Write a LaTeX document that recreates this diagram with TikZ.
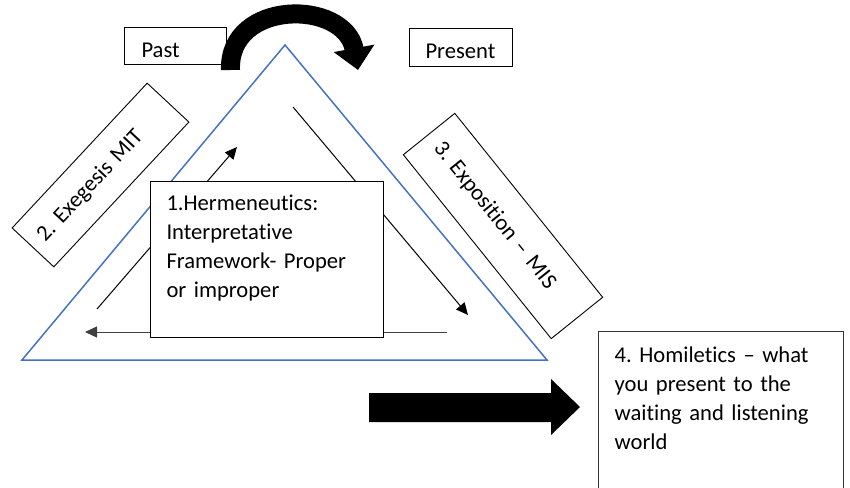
\documentclass[tikz,border=0pt]{standalone}
\usepackage{fontspec}
\setmainfont{Carlito}[Ligatures=NoCommon]
\usepackage{xcolor}
\usepackage{tikz}
\usetikzlibrary{positioning, shapes, arrows.meta, calc}
\definecolor{triblue}{HTML}{4472C4}
\frenchspacing

\begin{document}
\begin{tikzpicture}[
    x=1pt, y=-1pt,
    every node/.style={font=\fontsize{22.6pt}{29pt}\selectfont},
    box/.style={draw, fill=white, line width=1pt, align=left, inner ysep=0pt, anchor=north west},
    tilted/.style={draw, fill=white, line width=0.9pt, align=left, inner xsep=12pt},
    flow/.style={line width=1pt, -{Triangle[length=12pt,width=11pt]}},
    tri/.style={draw=triblue, line width=1.5pt, line join=miter}
]
\useasboundingbox (0,0) rectangle (850,487);

% 时间：过去 -> 现在
\node[box, text width=68pt, inner xsep=17pt, text height=30pt, text depth=7pt] (past) at (124,27) {Past};
\node[box, text width=71pt, inner xsep=16pt, text height=30pt, text depth=8pt] (present) at (409,28) {Present};
\draw[line width=19pt, -{Triangle[length=22pt,width=40pt]}] (230.5,70) .. controls (228,-1) and (345,-1) .. (358,70);

% 三角形
\coordinate (apex) at (285,45);
\coordinate (bl) at (22,360);
\coordinate (br) at (547,360);
\draw[tri] (apex) -- (br) -- (bl) -- cycle;

% 内部箭头
\coordinate (exgA) at (97,309);
\coordinate (exgB) at (237,147);
\coordinate (expA) at (293,107);
\coordinate (expB) at (468,315);
\coordinate (hrmA) at (447,332);
\coordinate (hrmB) at (85,332);
\draw[flow] (exgA) -- (exgB);
\draw[flow] (expA) -- (expB);
\draw[flow, draw=black!75] (hrmA) -- (hrmB);

% 斜放的标签
\node[tilted, rotate=47, minimum width=198pt, minimum height=57pt, text width=174pt] (exegesis) at (100.5,175) {2. Exegesis MIT};
\node[tilted, rotate=-51.2, minimum width=236pt, minimum height=66pt, text width=208pt, inner xsep=14pt] (exposition) at (503,226) {3. Exposition -- MIS};

% 中心方框
\node[box, text width=201pt, inner xsep=16pt, text height=29pt, text depth=127pt] (herm) at (150,181)
    {1.Hermeneutics:\\Interpretative\\Framework- Proper\\or improper};

% 输出
\fill (369,393) -- (551,393) -- (551,379) -- (580,407) -- (551,435) -- (551,422) -- (369,422) -- cycle;
\node[box, draw=black!80, line width=1.3pt, text width=213pt, inner xsep=16pt, text height=31pt, text depth=150pt] (homiletics) at (598,331)
    {4. Homiletics -- what\\you present to the\\waiting and listening\\world};

\end{tikzpicture}
\end{document}
